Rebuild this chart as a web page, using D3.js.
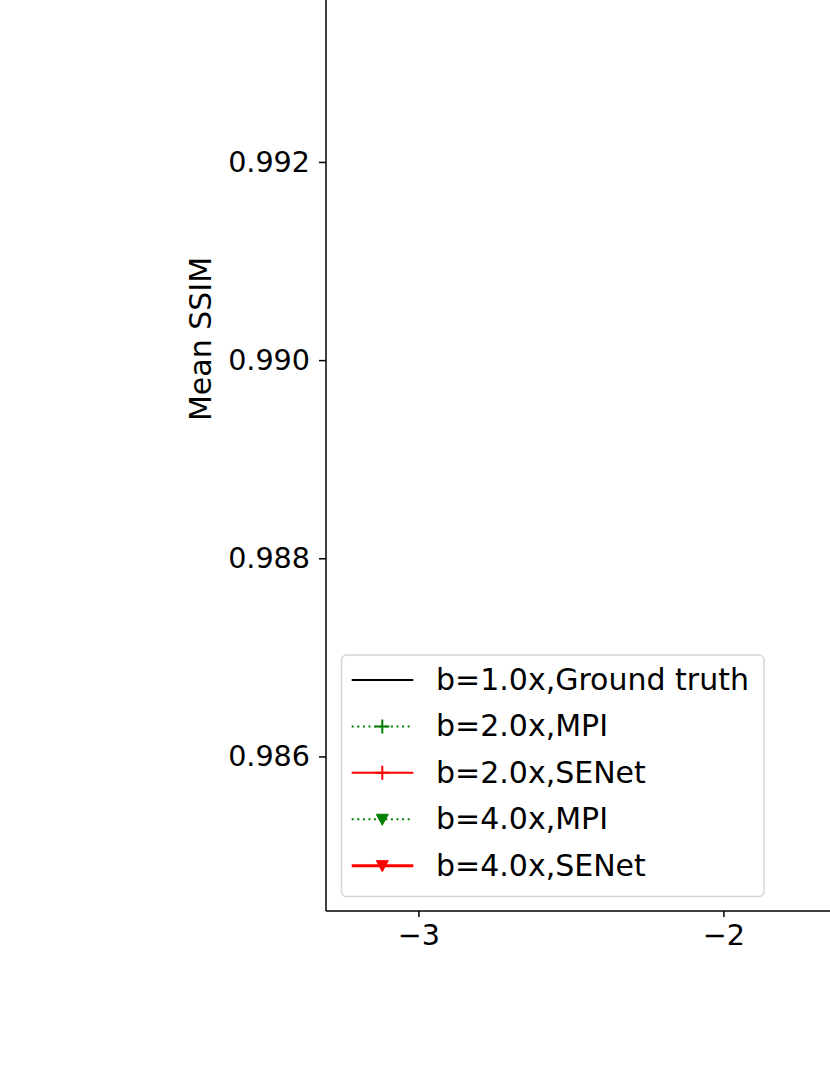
<!DOCTYPE html>
<html>
<head>
<meta charset="utf-8">
<script src="https://cdn.jsdelivr.net/npm/d3@7"></script>
<style>
  html, body { margin: 0; padding: 0; background: #fff; overflow: hidden; }
  svg { display: block; font-family: "DejaVu Sans", sans-serif; }
</style>
</head>
<body>
<script>
// ---- data (the curves lie to the right of the visible window) ----
const xValues = [-1, 0, 1];
const gtValues = [0.9935, 0.9935, 0.9935];
const mpi2Values = [0.9930, 0.9926, 0.9921];
const senet2Values = [0.9932, 0.9929, 0.9925];
const mpi4Values = [0.9920, 0.9912, 0.9903];
const senet4Values = [0.9926, 0.9921, 0.9915];
const xTicks = [-3, -2];
const yTicks = [0.986, 0.988, 0.990, 0.992];
const legendLabels = ["b=1.0x,Ground truth", "b=2.0x,MPI", "b=2.0x,SENet", "b=4.0x,MPI", "b=4.0x,SENet"];
const yLabel = "Mean SSIM";

const series = [
  { name: legendLabels[0], values: gtValues, color: "#000000", dash: null, marker: null, width: 2 },
  { name: legendLabels[1], values: mpi2Values, color: "#008000", dash: "2,3.6", marker: "plus", width: 2 },
  { name: legendLabels[2], values: senet2Values, color: "#ff0000", dash: null, marker: "plus", width: 2 },
  { name: legendLabels[3], values: mpi4Values, color: "#008000", dash: "2,3.6", marker: "tri", width: 2 },
  { name: legendLabels[4], values: senet4Values, color: "#ff0000", dash: null, marker: "tri", width: 3 }
];

const W = 830, H = 1075;
const svg = d3.select("body").append("svg").attr("width", W).attr("height", H);

const pLeft = 326, pBottom = 911, pTop = -60, pRight = 1730;
const x = d3.scaleLinear().domain([-3.303, 1.3]).range([pLeft, pLeft + 4.603 * 305]);
const y = d3.scaleLinear().domain([0.98444, 0.99424]).range([pBottom, pTop]);

const FS_TICK = 28.6, FS_LEG = 30, FS_LAB = 30;

// lines
const line = d3.line().x((d, i) => x(xValues[i])).y(d => y(d));
const plot = svg.append("g");
series.forEach(s => {
  plot.append("path").datum(s.values)
    .attr("d", line).attr("fill", "none")
    .attr("stroke", s.color).attr("stroke-width", s.width)
    .attr("stroke-dasharray", s.dash);
});

function drawMarker(g, type, cx, cy, color) {
  if (type === "plus") {
    g.append("path").attr("d", `M${cx-7},${cy}H${cx+7}M${cx},${cy-7}V${cy+7}`)
      .attr("stroke", color).attr("stroke-width", 2).attr("fill", "none");
  } else if (type === "tri") {
    g.append("path").attr("d", `M${cx-6},${cy-5}L${cx+6},${cy-5}L${cx},${cy+6}Z`)
      .attr("fill", color).attr("stroke", color).attr("stroke-width", 1);
  }
}
series.forEach(s => {
  s.values.forEach((v, i) => drawMarker(plot, s.marker, x(xValues[i]), y(v), s.color));
});

// spines
svg.append("line").attr("x1", pLeft).attr("x2", pLeft).attr("y1", pTop).attr("y2", pBottom)
  .attr("stroke", "#000").attr("stroke-width", 1.5);
svg.append("line").attr("x1", pLeft).attr("x2", pRight).attr("y1", pBottom).attr("y2", pBottom)
  .attr("stroke", "#000").attr("stroke-width", 1.5);

// x axis
const xAxis = d3.axisBottom(x).tickValues(xTicks).tickSize(6).tickPadding(8)
  .tickFormat(d => d < 0 ? "\u2212" + Math.abs(d) : String(d));
const gx = svg.append("g").attr("transform", `translate(0,${pBottom})`).call(xAxis);
gx.select(".domain").remove();
gx.selectAll(".tick line").attr("stroke", "#000").attr("stroke-width", 1.5);
gx.selectAll(".tick text").attr("font-size", FS_TICK).attr("font-family", "DejaVu Sans").attr("fill", "#000");

// y axis
const yAxis = d3.axisLeft(y).tickValues(yTicks).tickSize(7).tickPadding(9)
  .tickFormat(d3.format(".3f"));
const gy = svg.append("g").attr("transform", `translate(${pLeft},0)`).call(yAxis);
gy.select(".domain").remove();
gy.selectAll(".tick line").attr("stroke", "#000").attr("stroke-width", 1.5);
gy.selectAll(".tick text").attr("font-size", FS_TICK).attr("font-family", "DejaVu Sans").attr("fill", "#000");

// y label
svg.append("text").attr("transform", `translate(210.5,339) rotate(-90)`)
  .attr("text-anchor", "middle").attr("font-size", FS_LAB).attr("fill", "#000").text(yLabel);

// legend
const lg = svg.append("g");
lg.append("rect").attr("x", 341.5).attr("y", 655).attr("width", 422.5).attr("height", 241.5)
  .attr("rx", 5).attr("ry", 5).attr("fill", "#fff").attr("fill-opacity", 0.8)
  .attr("stroke", "#d6d6d6").attr("stroke-width", 1.5);
const rowY = d3.scaleLinear().domain([0, 4]).range([680, 865.7]);
series.forEach((s, i) => {
  const cy = rowY(i);
  lg.append("line").attr("x1", 351.7).attr("x2", 413.3).attr("y1", cy).attr("y2", cy)
    .attr("stroke", s.color).attr("stroke-width", s.width).attr("stroke-dasharray", s.dash);
  if (s.marker) drawMarker(lg, s.marker, 382.3, cy, s.color);
  lg.append("text").attr("x", 436).attr("y", cy + 10).attr("font-size", FS_LEG)
    .attr("fill", "#000").text(s.name);
});
</script>
</body>
</html>
